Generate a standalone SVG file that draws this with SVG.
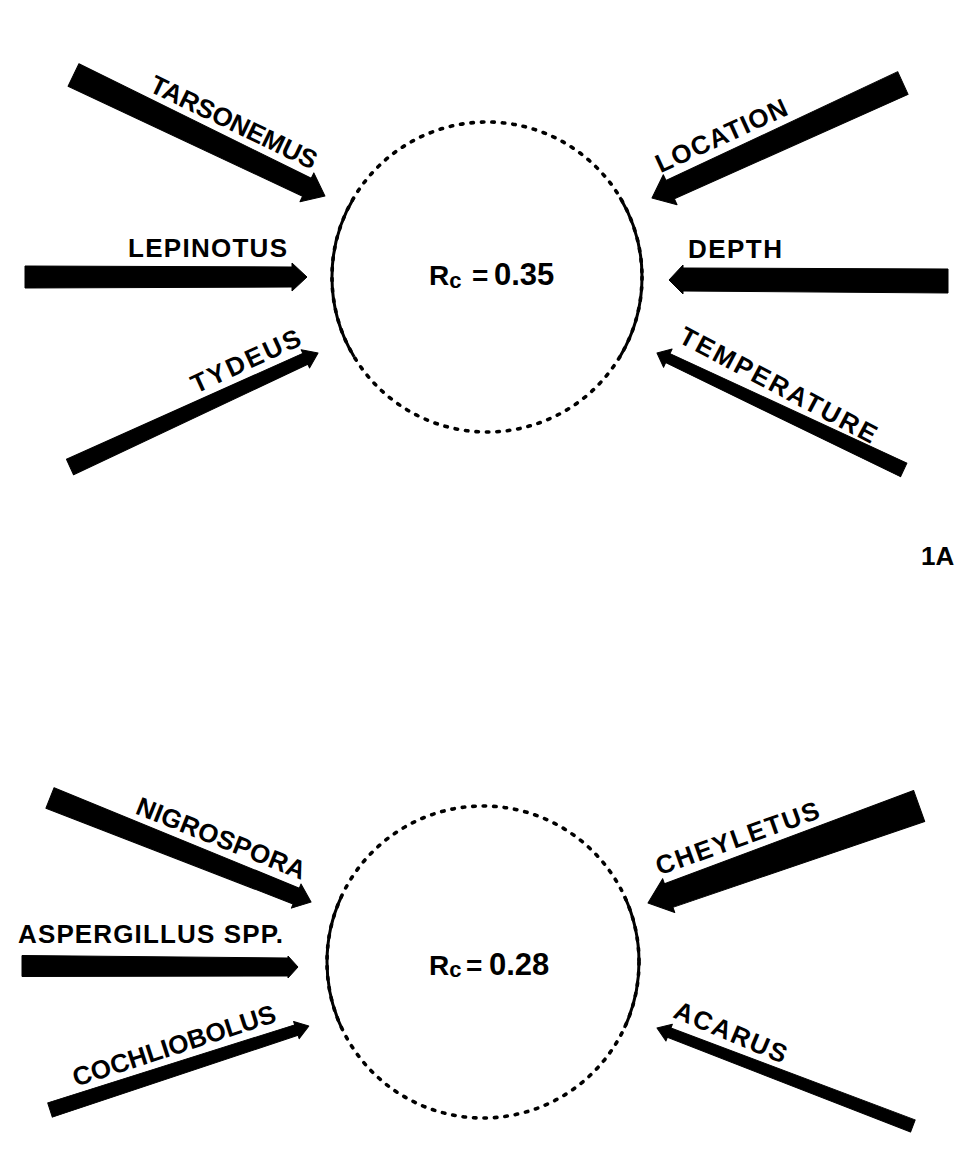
<svg xmlns="http://www.w3.org/2000/svg" width="963" height="1170" viewBox="0 0 963 1170">
<style>
.arr{fill:#000;stroke:#000;stroke-width:1;stroke-linejoin:round}
.lbl{font-family:"Liberation Sans",Arial,sans-serif;font-weight:bold;font-size:26px;fill:#000}
.rc{font-family:"Liberation Sans",Arial,sans-serif;font-weight:bold;font-size:28px;fill:#000}
.dot{fill:none;stroke:#000;stroke-width:3.6;stroke-linecap:round;stroke-dasharray:2.5 8}
.sol{fill:none;stroke:#000;stroke-width:3}
</style>
<rect width="963" height="1170" fill="#fff"/>

<g id="circle-top">
  <circle class="dot" cx="487" cy="277" r="155"/>
  <path class="sol" d="M354.1,197.2 A155,155 0 0 0 354.1,356.8"/>
  <path class="sol" d="M619.9,197.2 A155,155 0 0 1 619.9,356.8"/>
  <text class="rc" x="429" y="285">R<tspan font-size="22" dy="3">c</tspan><tspan dy="-3" x="472">=</tspan><tspan x="494" font-size="31">0.35</tspan></text>
</g>

<g id="circle-bottom">
  <circle class="dot" cx="483" cy="962" r="156"/>
  <path class="sol" d="M341.6,896.1 A156,156 0 0 0 341.6,1027.9"/>
  <path class="sol" d="M624.4,896.1 A156,156 0 0 1 624.4,1027.9"/>
  <text class="rc" x="429" y="975">R<tspan font-size="22" dy="2">c</tspan><tspan dy="-2" x="466">=</tspan><tspan x="489" font-size="31">0.28</tspan></text>
</g>

<g id="connectors">
  <g id="tarsonemus" transform="translate(73.5,75) rotate(25.69)">
    <polygon class="arr" points="0,-12.5 259,-10 259,-16 279,0 259,16 259,10 0,12.5"/>
    <text class="lbl" x="165" y="-18" text-anchor="middle" textLength="182">TARSONEMUS</text>
  </g>
  <g id="lepinotus">
    <polygon class="arr" points="25,266 292,267 292,263 307,277 292,291 292,287 25,288"/>
    <text class="lbl" x="128" y="257" textLength="159">LEPINOTUS</text>
  </g>
  <g id="tydeus" transform="translate(70,467) rotate(-24.69)">
    <polygon class="arr" points="0,-8.5 259,-6 259,-10 273,0 259,10 259,6 0,8.5"/>
    <text class="lbl" x="204" y="-14" text-anchor="middle" textLength="118">TYDEUS</text>
  </g>
  <g id="location" transform="translate(652,198) rotate(-24.62)">
    <polygon class="arr" points="0,0 20,-16.5 20,-10 276,-12.5 276,12.5 20,10 20,16.5"/>
    <text class="lbl" x="89" y="-19" text-anchor="middle" textLength="142">LOCATION</text>
  </g>
  <g id="depth">
    <polygon class="arr" points="669,280 683,265 683,268 948,269 948,293 683,291 683,294"/>
    <text class="lbl" x="688" y="258" textLength="94">DEPTH</text>
  </g>
  <g id="temperature" transform="translate(657,353) rotate(25.35)">
    <polygon class="arr" points="0,0 12,-10 12,-5 273,-7.5 273,7.5 12,5 12,10"/>
    <text class="lbl" x="123" y="-14" text-anchor="middle" textLength="219" transform="rotate(2.5 123 -14)">TEMPERATURE</text>
  </g>
  <g id="nigrospora" transform="translate(50,798) rotate(21.72)">
    <polygon class="arr" points="0,-11 265,-8.5 265,-13 281,0 265,13 265,8.5 0,11"/>
    <text class="lbl" x="174" y="-17" text-anchor="middle" textLength="180">NIGROSPORA</text>
  </g>
  <g id="aspergillus">
    <polygon class="arr" points="22,955.5 288,958 288,956 298,967 288,978 288,976 22,976.5"/>
    <text class="lbl" x="18" y="943" textLength="265">ASPERGILLUS SPP.</text>
  </g>
  <g id="cochliobolus" transform="translate(50,1110) rotate(-17.97)">
    <polygon class="arr" points="0,-7.5 259,-5.5 259,-9 272,0 259,9 259,5.5 0,7.5"/>
    <text class="lbl" x="138" y="-14" text-anchor="middle" textLength="212">COCHLIOBOLUS</text>
  </g>
  <g id="cheyletus" transform="translate(648,903) rotate(-19.69)">
    <polygon class="arr" points="0,0 22,-18 22,-12.5 288,-16.5 288,16.5 22,12.5 22,18"/>
    <text class="lbl" x="106" y="-22" text-anchor="middle" textLength="172">CHEYLETUS</text>
  </g>
  <g id="acarus" transform="translate(657,1028) rotate(20.95)">
    <polygon class="arr" points="0,0 13,-9 13,-5 274,-6.5 274,6.5 13,5 13,9"/>
    <text class="lbl" x="70" y="-13.5" text-anchor="middle" textLength="120" transform="rotate(2 70 -13.5)">ACARUS</text>
  </g>
</g>

<text id="fig-label" class="lbl" x="921" y="565" font-size="20">1A</text>
</svg>
